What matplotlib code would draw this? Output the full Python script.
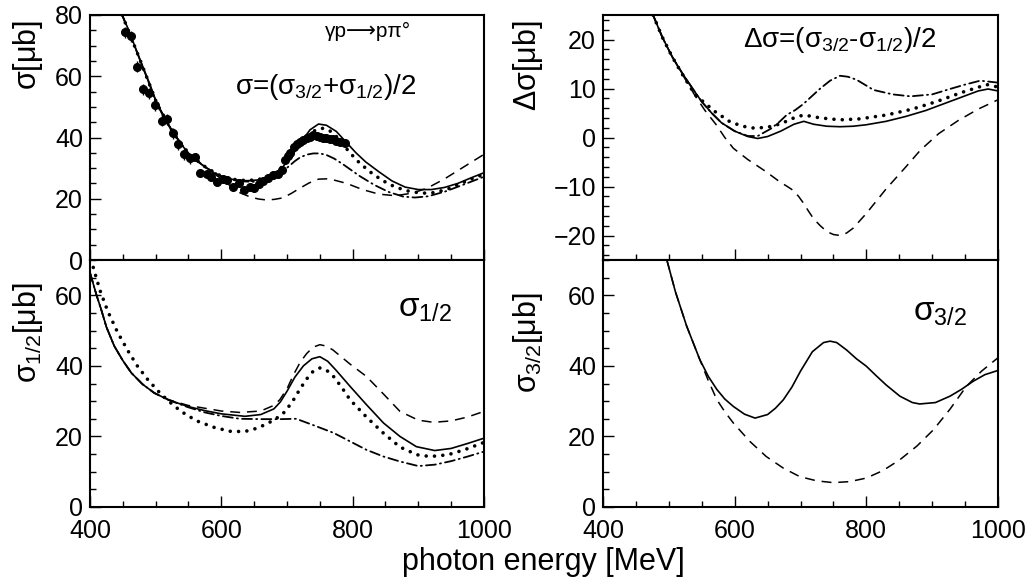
import numpy as np
import matplotlib.pyplot as plt
from matplotlib.ticker import MultipleLocator

plt.rcParams['font.family'] = ['Liberation Sans', 'DejaVu Sans']
plt.rcParams['mathtext.fontset'] = 'custom'
plt.rcParams['mathtext.rm'] = 'Liberation Sans'
plt.rcParams['mathtext.it'] = 'Liberation Sans'

# ---- sigma = (s32 + s12)/2, upper left ----
sig_sol_E = [449, 460, 475, 490, 502, 515, 527, 540, 552, 565, 578, 590, 603, 615, 628, 640, 654, 667, 679, 692,
             705, 720, 735, 748, 760, 775, 790, 805, 820, 840, 860, 880, 900, 920, 940, 960, 980, 1000]
sig_sol = [80, 74.5, 66, 58, 51, 45.5, 41.4, 37.5, 34.3, 32, 30, 28.3, 27, 26.4, 26, 25.9, 26.1, 26.7, 27.8, 30,
           33.3, 38, 42.5, 44.4, 44, 42, 38.5, 35, 32, 28.8, 25.8, 23.8, 23, 23, 23.7, 25, 26.8, 28.5]
sig_dot_E = [449, 475, 502, 527, 552, 578, 603, 628, 654, 679, 690, 700, 710, 720, 730, 740, 748, 755, 762, 770,
             780, 790, 806, 825, 845, 865, 885, 905, 925, 945, 965, 985, 1000]
sig_dot = [80, 66, 51, 41.4, 34.3, 30, 27, 26, 26.1, 27.8, 29.8, 32.5, 35.3, 38, 40.5, 42, 42.8, 43, 42.6, 41.5,
           39.2, 36.5, 32.6, 29, 26, 23.8, 22.5, 21.8, 22, 23.2, 25, 26.8, 28]
sig_dd_E = [449, 475, 502, 527, 552, 578, 603, 628, 654, 675, 690, 705, 712, 720, 730, 740, 750, 760, 772, 787,
            810, 833, 855, 877, 895, 915, 940, 965, 1000]
sig_dd = [80, 66, 51, 41.4, 34.3, 30, 27, 25.7, 25.5, 26.5, 28.3, 31, 32.3, 33.5, 34.4, 34.8, 34.8, 34.3, 33.1,
          31, 27.5, 24.5, 22.2, 20.7, 20.4, 20.8, 22.3, 24.3, 27.2]
sig_das_E = [449, 475, 502, 527, 552, 578, 600, 615, 628, 645, 657, 669, 681, 694, 707, 720, 734, 748, 760, 770,
             791, 815, 840, 865, 890, 913, 940, 970, 1000]
sig_das = [80, 66, 51, 41.4, 34.3, 29.8, 26.5, 24, 22, 20.5, 19.9, 19.6, 19.8, 20.3, 21.8, 23.5, 25.2, 26.4, 26.5,
           26.2, 25, 23, 21.5, 21, 21.8, 23.4, 26.5, 30.5, 34.5]

# measured points
dat_E = [453, 463, 472, 481, 490, 499, 509, 517, 526, 534, 543, 552, 560, 568, 578, 585, 594, 602, 609, 618,
         627, 634, 643, 649, 657, 664, 671, 679, 686, 692, 697, 701, 705, 710, 715, 720, 725, 730, 735, 740,
         745, 750, 755, 760, 765, 770, 775, 781, 788]
dat_s = [74.3, 73.0, 63.1, 55.8, 54.4, 50.6, 45.4, 46.0, 41.4, 37.8, 34.5, 33.2, 33.7, 28.3, 28.0, 27.0, 25.6,
         26.3, 26.1, 23.9, 25.2, 22.9, 23.9, 23.4, 24.8, 25.8, 26.8, 27.8, 28.2, 29.5, 32.6, 33.8, 34.8, 37.0,
         37.8, 38.6, 39.2, 39.7, 40.3, 40.8, 40.6, 40.2, 40.0, 39.7, 39.5, 39.4, 39.0, 38.6, 38.1]
dat_err = [1.8] * 12 + [1.2] * 37

# ---- delta sigma = (s32 - s12)/2, upper right ----
dsig_sol_E = [476, 490, 505, 520, 535, 550, 565, 580, 600, 620, 635, 650, 670, 690, 705, 720, 740, 760, 780, 800,
              830, 860, 890, 920, 950, 970, 985, 1000]
dsig_sol = [25, 20.5, 16.5, 13.2, 10.2, 7.3, 5, 3, 1.3, 0.2, -0.2, 0.2, 1.3, 2.7, 3.3, 2.7, 2.3, 2.2, 2.3, 2.6,
            3.3, 4.3, 5.5, 7, 8.5, 9.5, 9.9, 9.5]
dsig_dot_E = [476, 490, 505, 520, 540, 555, 570, 593, 612, 630, 650, 670, 690, 705, 730, 760, 790, 831, 870, 906,
              945, 983, 1000]
dsig_dot = [25, 20.5, 16.5, 13, 8.7, 7, 5.3, 3.2, 2.3, 1.9, 2.1, 2.8, 4, 4.6, 4, 3.6, 3.8, 4.6, 5.8, 7.3,
            9.2, 10.8, 10.3]
dsig_dd_E = [476, 490, 505, 520, 535, 550, 565, 580, 600, 620, 635, 655, 668, 679, 692, 704, 717, 730, 745, 760,
             772, 785, 811, 840, 867, 900, 927, 950, 973, 1000]
dsig_dd = [25, 20.5, 16.5, 13.2, 10.2, 7.3, 5, 3, 1.3, 0.3, 0.3, 1.8, 3.2, 4.6, 5.6, 6.8, 8.4, 10, 11.6, 12.6,
           12.4, 11.8, 9.7, 8.8, 8.4, 8.8, 9.9, 10.8, 11.6, 11.2]
dsig_das_E = [476, 490, 505, 520, 540, 555, 572, 585, 598, 620, 648, 669, 680, 689, 697, 704, 712, 720, 730, 740,
              750, 760, 770, 780, 800, 830, 860, 882, 910, 940, 970, 1000]
dsig_das = [25, 20.5, 16.5, 13, 8.5, 5.5, 2.6, 0, -2.2, -4.5, -7, -9.1, -10, -10.8, -12, -13.3, -15, -16.6, -18,
            -19.2, -19.8, -20, -19.5, -18.5, -15.5, -10.5, -6, -2.6, 0.8, 3.5, 5.8, 7.7]

# ---- sigma 1/2, lower left ----
s12_sol_E = [400, 410, 417, 425, 437, 450, 463, 480, 498, 520, 549, 575, 600, 636, 660, 680, 690, 700, 712, 725,
             738, 750, 762, 775, 796, 821, 847, 872, 897, 925, 950, 975, 1000]
s12_sol = [66.4, 60, 56, 51, 45.6, 41.5, 38, 34.8, 32.3, 30.3, 28.5, 27.3, 26.4, 25.7, 26.2, 27.8, 29.8, 32.8,
           36.8, 40, 42, 42.6, 41.3, 38.7, 34.2, 29, 23.8, 20, 17.1, 16, 16.6, 18, 19.5]
s12_dot_E = [405, 415, 427, 442, 458, 472, 488, 508, 529, 546, 564, 590, 615, 636, 656, 681, 697, 710, 720, 730,
             740, 750, 760, 770, 783, 796, 821, 847, 872, 898, 918, 945, 970, 1000]
s12_dot = [67.9, 61.5, 55.5, 49.5, 44.2, 40, 36.1, 32, 28.5, 26.2, 24.3, 22.5, 21.4, 21.4, 22.4, 24.7, 27, 30.4,
           33.5, 36.3, 38.5, 39.4, 38.8, 37.2, 34, 30.4, 25.5, 20.9, 17, 14.8, 14.3, 14.8, 16.2, 18.3]
s12_das_E = [400, 410, 417, 425, 437, 450, 463, 480, 498, 520, 549, 600, 628, 660, 680, 689, 700, 710, 720, 730,
             740, 750, 760, 770, 783, 796, 821, 847, 872, 900, 923, 950, 975, 1000]
s12_das = [66.4, 60, 56, 51, 45.6, 41.5, 38, 34.8, 32.3, 30.4, 28.8, 27.2, 26.8, 27.2, 28.8, 30.4, 33.5, 37.5,
           41, 43.5, 45.3, 46, 45.6, 44.5, 42.5, 40.5, 37, 32, 27.1, 24.6, 24, 24.4, 25.5, 27.1]
s12_dd_E = [400, 410, 417, 425, 437, 450, 463, 480, 498, 520, 549, 575, 600, 628, 660, 690, 714, 740, 771, 796,
            821, 847, 872, 900, 925, 950, 975, 1000]
s12_dd = [66.4, 60, 56, 51, 45.6, 41.5, 38, 34.8, 32.3, 30.3, 28.3, 26.8, 25.8, 25, 24.9, 24.9, 25, 23.2, 21,
          18.6, 16.2, 14.3, 12.9, 11.6, 12, 13, 14.3, 15.7]

# ---- sigma 3/2, lower right ----
s32_sol_E = [497, 510, 527, 547, 560, 573, 585, 598, 615, 631, 650, 662, 674, 687, 700, 718, 735, 745, 755, 770,
             785, 800, 815, 830, 851, 870, 881, 905, 927, 945, 962, 980, 1000]
s32_sol = [70, 61, 51.3, 41.8, 37, 33.3, 30.6, 28.5, 26.3, 25.2, 26.2, 28, 30.4, 34, 38.5, 44, 46.6, 47, 46.6,
           44.5, 42, 39.9, 37.2, 34.6, 31.4, 29.6, 29.2, 29.6, 31.4, 33.4, 35.6, 37.5, 38.7]
s32_das_E = [497, 510, 527, 547, 560, 573, 585, 598, 623, 648, 674, 699, 725, 750, 775, 800, 825, 851, 877, 902,
             927, 952, 975, 1000]
s32_das = [70, 61, 51.3, 41.8, 35.8, 30.4, 27, 23.8, 18.6, 14.3, 11, 8.6, 7.4, 6.9, 7.2, 8.2, 10.3, 13.4, 17.3,
           21.9, 27.7, 34.2, 38.5, 42.3]

W, H = 1027, 579
fig = plt.figure(figsize=(W / 100, H / 100), dpi=100)


def box(l, t, r, b):
    return [l / W, 1 - b / H, (r - l) / W, (b - t) / H]


ax1 = fig.add_axes(box(90, 15, 484, 260))
ax2 = fig.add_axes(box(603, 15, 998, 260))
ax3 = fig.add_axes(box(90, 260, 484, 507))
ax4 = fig.add_axes(box(603, 260, 998, 507))

sol = dict(color='k', lw=1.2, ls='-')
dot = dict(color='k', lw=2.6, ls=(0, (0.01, 2.3)), dash_capstyle='round')
das = dict(color='k', lw=1.1, ls=(0, (6.5, 4.5)))
ddo = dict(color='k', lw=1.3, ls=(0, (5.5, 2.3, 0.6, 2.3)), dash_capstyle='round')

ax1.plot(sig_das_E, sig_das, **das)
ax1.plot(sig_dd_E, sig_dd, **ddo)
ax1.plot(sig_dot_E, sig_dot, **dot)
ax1.plot(sig_sol_E, sig_sol, **sol)
ax1.errorbar(dat_E, dat_s, yerr=dat_err, fmt='o', ms=5.5, color='k', elinewidth=1, capsize=0)

ax2.plot(dsig_das_E, dsig_das, **das)
ax2.plot(dsig_dd_E, dsig_dd, **ddo)
ax2.plot(dsig_dot_E, dsig_dot, **dot)
ax2.plot(dsig_sol_E, dsig_sol, **sol)

ax3.plot(s12_das_E, s12_das, **das)
ax3.plot(s12_dd_E, s12_dd, **ddo)
ax3.plot(s12_dot_E, s12_dot, **dot)
ax3.plot(s12_sol_E, s12_sol, **sol)

ax4.plot(s32_das_E, s32_das, **das)
ax4.plot(s32_sol_E, s32_sol, **sol)

ylims = [(0, 80), (-25, 25), (0, 70), (0, 70)]
ymaj = [20, 10, 20, 20]
ymin = [5, 2, 5, 5]
for ax, yl, ma, mi in zip([ax1, ax2, ax3, ax4], ylims, ymaj, ymin):
    ax.set_xlim(400, 1000)
    ax.set_ylim(*yl)
    ax.xaxis.set_major_locator(MultipleLocator(200))
    ax.xaxis.set_minor_locator(MultipleLocator(50))
    ax.yaxis.set_major_locator(MultipleLocator(ma))
    ax.yaxis.set_minor_locator(MultipleLocator(mi))
    ax.tick_params(which='both', direction='in', top=False, right=False, labelsize=18, width=1)
    ax.tick_params(which='major', length=8, pad=5)
    ax.tick_params(which='minor', length=4)
    ax.tick_params(axis='x', pad=9)
    for s in ax.spines.values():
        s.set_linewidth(1.5)

ax1.set_xticklabels([])
ax2.set_xticklabels([])
ax3.set_yticks([0, 20, 40, 60])
ax4.set_yticks([0, 20, 40, 60])

# axis titles
fig.text(28 / W, 1 - 20 / H, r'$\sigma$[$\mu$b]', rotation=90, ha='center', va='top', fontsize=22)
fig.text(528 / W, 1 - 20 / H, r'$\Delta\sigma$[$\mu$b]', rotation=90, ha='center', va='top', fontsize=22)
fig.text(28 / W, 1 - 282 / H, r'$\sigma_{1/2}$[$\mu$b]', rotation=90, ha='center', va='top', fontsize=22)
fig.text(528 / W, 1 - 292 / H, r'$\sigma_{3/2}$[$\mu$b]', rotation=90, ha='center', va='top', fontsize=22)
fig.text(543 / W, 1 - 562 / H, 'photon energy [MeV]', ha='center', va='center', fontsize=22)

# panel annotations
fig.text(325 / W, 1 - 31 / H, 'γp⟶pπ°', ha='left', va='center', fontsize=15,
         family=['Liberation Sans', 'DejaVu Sans'])
fig.text(235 / W, 1 - 87 / H, r'$\sigma$=($\sigma_{3/2}$+$\sigma_{1/2}$)/2', ha='left', va='center', fontsize=20)
fig.text(743 / W, 1 - 40 / H, r'$\Delta\sigma$=($\sigma_{3/2}$-$\sigma_{1/2}$)/2', ha='left', va='center',
         fontsize=20)
fig.text(398 / W, 1 - 308 / H, r'$\sigma_{1/2}$', ha='left', va='center', fontsize=24)
fig.text(913 / W, 1 - 312 / H, r'$\sigma_{3/2}$', ha='left', va='center', fontsize=24)

plt.savefig('out.png', dpi=100)
